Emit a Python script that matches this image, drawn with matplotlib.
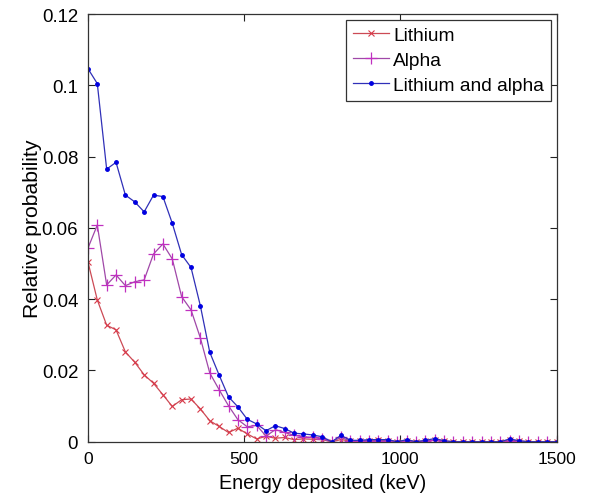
import matplotlib
matplotlib.use("Agg")
import matplotlib.pyplot as plt

plt.rcParams['font.family'] = ['Liberation Sans', 'DejaVu Sans']

# energy bins (keV)
energy = [0, 30, 60, 90, 120, 150, 180, 210, 240, 270,
          300, 330, 360, 390, 420, 450, 480, 510, 540, 570,
          600, 630, 660, 690, 720, 750, 780, 810, 840, 870,
          900, 930, 960, 990, 1020, 1050, 1080, 1110, 1140, 1170,
          1200, 1230, 1260, 1290, 1320, 1350, 1380, 1410, 1440, 1470,
          1500]

lithium = [0.0505, 0.0398, 0.0327, 0.0314, 0.0252, 0.0223, 0.0188, 0.0164, 0.0132, 0.0099,
           0.0118, 0.0120, 0.0092, 0.0059, 0.0043, 0.0026, 0.0038, 0.0022, 0.0008, 0.0015,
           0.0010, 0.0012, 0.0006, 0.0008, 0.0007, 0.0006, 0.0000, 0.0006, 0.0002, 0.0002,
           0.0003, 0.0004, 0.0003, 0.0000, 0.0003, 0.0000, 0.0002, 0.0004, 0.0002, 0.0000,
           0.0000, 0.0000, 0.0000, 0.0000, 0.0000, 0.0006, 0.0001, 0.0000, 0.0000, 0.0000,
           0.0000]

alpha = [0.0543, 0.0608, 0.0440, 0.0468, 0.0438, 0.0449, 0.0454, 0.0527, 0.0555, 0.0513,
         0.0407, 0.0370, 0.0291, 0.0193, 0.0146, 0.0101, 0.0062, 0.0042, 0.0046, 0.0016,
         0.0034, 0.0026, 0.0018, 0.0014, 0.0012, 0.0008, 0.0000, 0.0012, 0.0002, 0.0002,
         0.0003, 0.0002, 0.0003, 0.0000, 0.0003, 0.0000, 0.0002, 0.0005, 0.0001, 0.0000,
         0.0000, 0.0000, 0.0000, 0.0000, 0.0000, 0.0002, 0.0002, 0.0000, 0.0000, 0.0000,
         0.0000]

both = [0.1047, 0.1005, 0.0765, 0.0784, 0.0692, 0.0673, 0.0645, 0.0692, 0.0688, 0.0613,
        0.0525, 0.0489, 0.0381, 0.0251, 0.0187, 0.0126, 0.0098, 0.0063, 0.0050, 0.0031,
        0.0045, 0.0037, 0.0024, 0.0022, 0.0019, 0.0014, 0.0000, 0.0018, 0.0004, 0.0004,
        0.0006, 0.0006, 0.0006, 0.0000, 0.0006, 0.0000, 0.0004, 0.0009, 0.0003, 0.0000,
        0.0000, 0.0000, 0.0000, 0.0000, 0.0000, 0.0008, 0.0003, 0.0000, 0.0000, 0.0000,
        0.0000]

xticks = [0, 500, 1000, 1500]
yticks = [0, 0.02, 0.04, 0.06, 0.08, 0.1, 0.12]
ytick_labels = ['0', '0.02', '0.04', '0.06', '0.08', '0.1', '0.12']

fig = plt.figure(figsize=(5.94, 5.02), dpi=100)
ax = fig.add_axes([0.148, 0.118, 0.789, 0.852])

ax.plot(energy, lithium, color='#cc4a55', lw=0.9, marker='x', ms=4,
        mec='#d83a4a', mew=0.8, label='Lithium')
ax.plot(energy, alpha, color='#a048a8', lw=0.9, marker='+', ms=8,
        mec='#c030c0', mew=0.9, label='Alpha')
ax.plot(energy, both, color='#3030b8', lw=0.9, marker='.', ms=5,
        mec='#0000e0', mfc='#0000e0', label='Lithium and alpha')

ax.set_xlim(0, 1500)
ax.set_ylim(0, 0.12)
ax.set_xticks(xticks)
ax.set_yticks(yticks)
ax.set_yticklabels(ytick_labels)
ax.tick_params(direction='in', top=True, right=True, length=5, width=0.8,
               pad=7, colors='#222222', labelcolor='black')
ax.tick_params(axis='x', labelsize=12.5)
ax.tick_params(axis='y', labelsize=13.4)
for s in ax.spines.values():
    s.set_color('#333333')
    s.set_linewidth(0.9)

ax.set_xlabel('Energy deposited (keV)', fontsize=14.2, labelpad=5)
ax.set_ylabel('Relative probability', fontsize=15.2, labelpad=0)

leg = ax.legend(loc='upper right', fontsize=13.8, fancybox=False, framealpha=1,
                edgecolor='#333333', handlelength=1.9, handletextpad=0.2,
                borderpad=0.35, labelspacing=0.4, borderaxespad=0.3)
leg.get_frame().set_linewidth(0.9)

fig.savefig('out.png', dpi=100)
